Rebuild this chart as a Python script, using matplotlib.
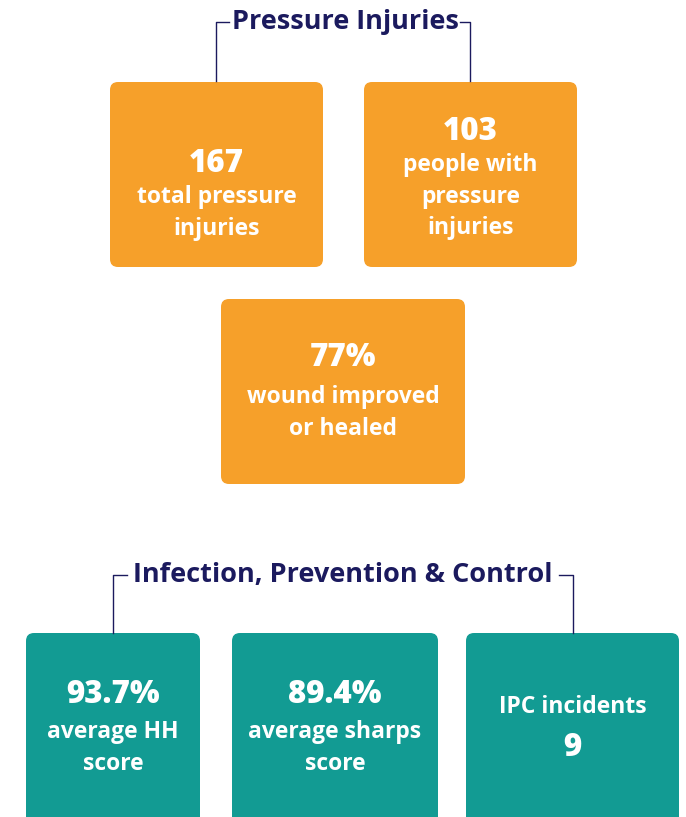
import matplotlib.pyplot as plt
from matplotlib.patches import FancyBboxPatch

orange = '#F6A02A'
teal = '#129B93'
navy = '#1B1A5E'

# section titles
titles = ['Pressure Injuries', 'Infection, Prevention & Control']

# box contents: headline value and caption lines
pi_values = ['167', '103', '77%']
pi_labels = [['total pressure', 'injuries'],
             ['people with', 'pressure', 'injuries'],
             ['wound improved', 'or healed']]

ipc_values = ['93.7%', '89.4%', '9']
ipc_labels = [['average HH', 'score'],
              ['average sharps', 'score'],
              ['IPC incidents']]

plt.rcParams['font.family'] = ['Open Sans', 'DejaVu Sans']

fig = plt.figure(figsize=(6.86, 8.17), dpi=100)
ax = fig.add_axes([0, 0, 1, 1])
ax.set_xlim(0, 686)
ax.set_ylim(817, 0)
ax.axis('off')


def box(x0, y0, x1, y1, color):
	p = FancyBboxPatch((x0 + 8, y0 + 8), x1 - x0 - 16, y1 - y0 - 16,
		boxstyle='round,pad=8', fc=color, ec='none')
	ax.add_patch(p)


def bracket(x_left, x_right, y_top, y_bot, x_lt, x_rt):
	kw = dict(color=navy, lw=1.0)
	ax.plot([x_lt, x_left, x_left], [y_top, y_top, y_bot], **kw)
	ax.plot([x_rt, x_right, x_right], [y_top, y_top, y_bot], **kw)


def put(cx, y, t, big=False):
	ax.text(cx, y, t, color='white', fontsize=22.5 if big else 16.5,
		fontweight='heavy' if big else 'bold', ha='center', va='center')


def fill_text(cx, y_first, value, label, gap, value_first=True):
	y = y_first
	if value_first:
		put(cx, y, value, big=True)
		y += gap
		for l in label:
			put(cx, y, l)
			y += 31.5
	else:
		for l in label:
			put(cx, y, l)
			y += 31.5
		put(cx, y + 10, value, big=True)


# Pressure injuries
ax.text(345, 22, titles[0], color=navy, fontsize=19.5, fontweight='bold', ha='center', va='center')
bracket(216, 470, 22, 81, 229, 460)

pi_boxes = [(110, 82, 323, 267), (364, 82, 577, 267), (221, 299, 465, 484)]
pi_first = [164, 132, 358]
pi_gap = [33, 33, 39]
for (x0, y0, x1, y1), v, lab, yf, g in zip(pi_boxes, pi_values, pi_labels, pi_first, pi_gap):
	box(x0, y0, x1, y1, orange)
	fill_text((x0 + x1) / 2, yf, v, lab, g)

# Infection, prevention & control
ax.text(343, 575, titles[1], color=navy, fontsize=19.5, fontweight='bold', ha='center', va='center')
bracket(113, 573, 575, 633, 127, 559)

ipc_boxes = [(26, 633, 200, 840), (232, 633, 438, 840), (466, 633, 679, 840)]
for i, ((x0, y0, x1, y1), v, lab) in enumerate(zip(ipc_boxes, ipc_values, ipc_labels)):
	box(x0, y0, x1, y1, teal)
	if i < 2:
		fill_text((x0 + x1) / 2, 695, v, lab, 37)
	else:
		fill_text((x0 + x1) / 2, 707, v, lab, 37, value_first=False)

plt.savefig('out.png', dpi=100)
